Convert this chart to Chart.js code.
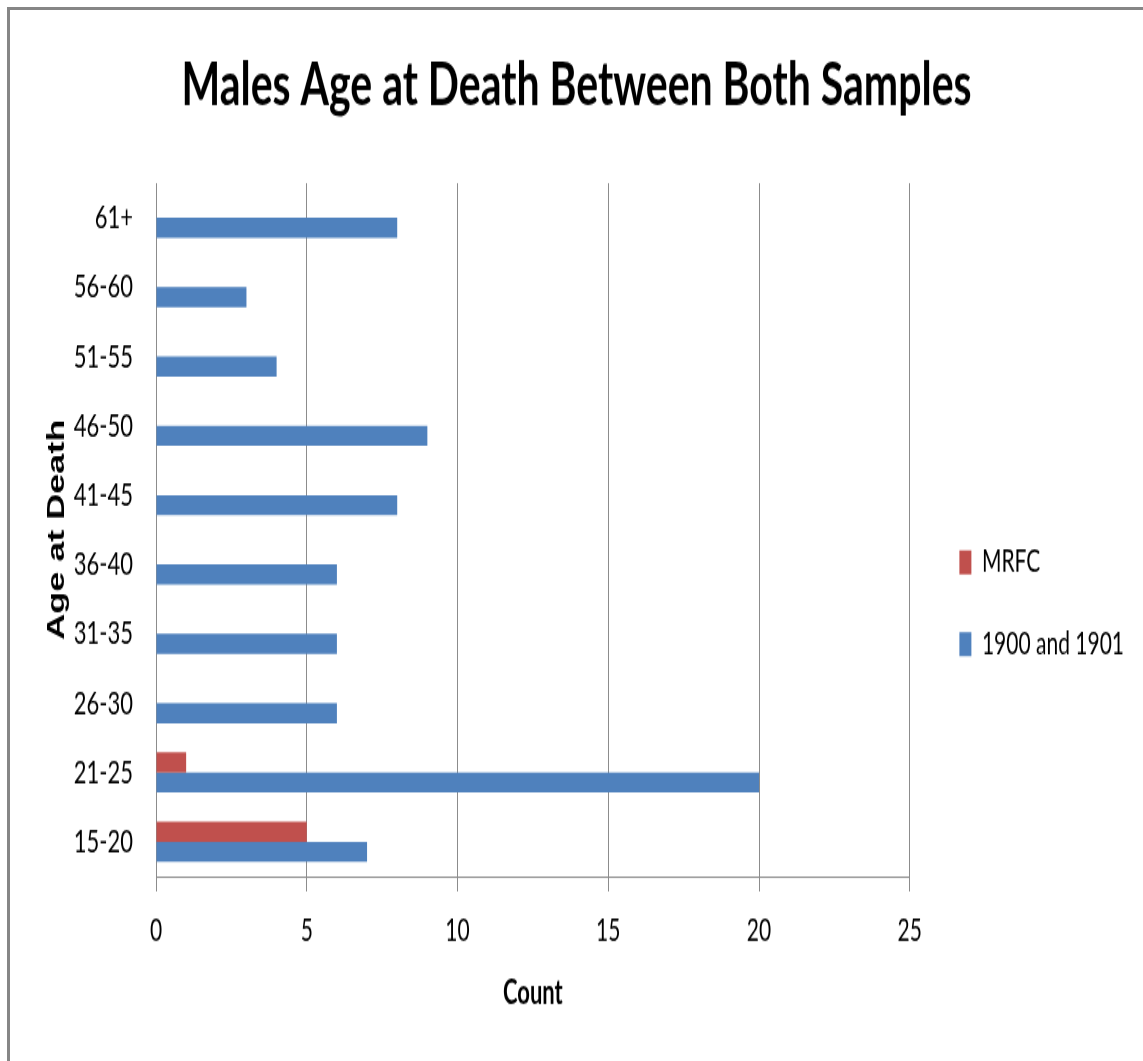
<!DOCTYPE html>
<html>
<head>
<meta charset="utf-8">
<script src="https://cdn.jsdelivr.net/npm/chart.js@4.4.1/dist/chart.umd.min.js"></script>
<style>
body{margin:0;background:#fff;overflow:hidden}
#page{position:relative;width:1143px;height:1061px;overflow:hidden;background:#fff}
#frame{position:absolute;left:7px;top:7px;right:-10px;bottom:-10px;border-top:3px solid #868686;border-left:3px solid #868686}
#stretch{position:absolute;left:0;top:0;width:1143px;height:707px;transform:scaleY(1.5007);transform-origin:0 0}
</style>
</head>
<body>
<div id="page">
<div id="stretch"><canvas id="chart"></canvas></div>
<div id="frame"></div>
</div>
<script>

const ageGroups=["61+","56-60","51-55","46-50","41-45","36-40","31-35","26-30","21-25","15-20"]
const mrfc=[0,0,0,0,0,0,0,0,1,5]
const census=[8,3,4,9,8,6,6,6,20,7]
const countTicks=[0,5,10,15,20,25]

const gridGray="#8c8c8c"

let chart=new Chart(document.getElementById("chart"),{

type:"bar",

data:{
labels:ageGroups,
datasets:[
{label:"MRFC",data:mrfc,backgroundColor:"#c0504d",borderWidth:0},
{label:"1900 and 1901",data:census,backgroundColor:"#4f81bd",borderWidth:0}
]
},

options:{
indexAxis:"y",
responsive:true,
maintainAspectRatio:false,
animation:false,
layout:{padding:{left:19,right:9,top:0,bottom:0}},
datasets:{bar:{categoryPercentage:0.58,barPercentage:1}},

plugins:{
title:{
display:true,
text:"Males Age at Death Between Both Samples",
color:"#000",
font:{family:"Lato",size:41,weight:"bold"},
padding:{top:32.4,bottom:40.4}
},
legend:{
position:"right",
align:"center",
title:{display:true,text:" ",font:{size:10},padding:{top:85,bottom:0}},
labels:{
color:"#000",
font:{family:"Lato",size:21},
boxWidth:12,
boxHeight:16,
padding:33.6
}
},
tooltip:{enabled:false}
},

scales:{
x:{
min:0,
max:25,
afterBuildTicks:s=>{s.ticks=countTicks.map(v=>({value:v}))},
grid:{color:gridGray,lineWidth:1,tickLength:10,drawTicks:true},
border:{display:true,color:gridGray,width:1},
ticks:{color:"#000",font:{family:"Lato",size:21},padding:14},
title:{display:true,text:"Count",color:"#000",font:{family:"Lato",size:22,weight:"bold"},padding:{top:16,bottom:32}},
afterFit:s=>{s.height=123}
},
y:{
grid:{display:false,drawTicks:false},
border:{display:true,color:gridGray,width:1},
ticks:{color:"#000",font:{family:"Lato",size:22},padding:23},
title:{display:true,text:"Age at Death",color:"#000",font:{family:"Liberation Sans",size:24,weight:"bold"},padding:{top:23.6,bottom:0}},
afterFit:s=>{s.width=137}
},
// empty spacer between the plot and the legend
gap:{
type:"linear",
axis:"y",
position:"right",
display:false,
afterFit:s=>{s.width=16}
}
}
}

})

</script>
</body>
</html>
